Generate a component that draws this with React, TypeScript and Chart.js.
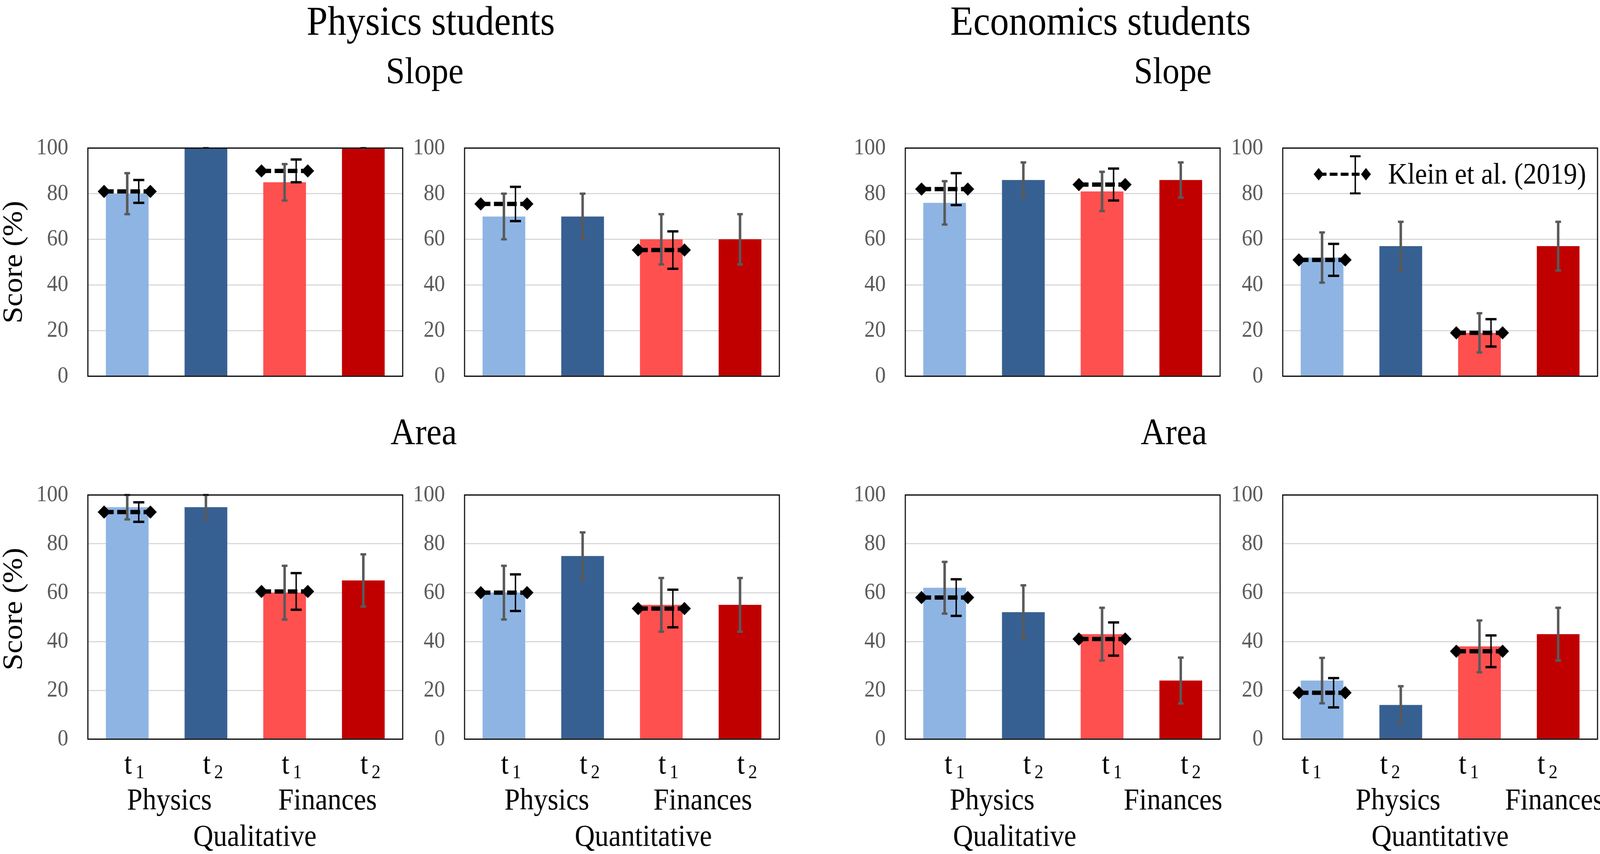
import { useEffect, useRef } from "react";
import { Chart, registerables } from "chart.js";

Chart.register(...registerables);

const FONT = '"Liberation Serif", "Times New Roman", serif';

// labels
const studentGroups = ["Physics students", "Economics students"];
const tasks = ["Slope", "Area"];
const timePoints = ["t1", "t2", "t1", "t2"];
const subjects = ["Physics", "Finances"];
const itemTypes = ["Qualitative", "Quantitative"];
const yAxisLabel = "Score (%)";
const legendLabel = "Klein et al. (2019)";
const yTicks = [0, 20, 40, 60, 80, 100];
const barColors = ["#8EB4E3", "#376092", "#FF5050", "#C00000"];

// Physics students - Slope
const physSlopeQualScore = [80, 100, 85, 100];
const physSlopeQualError = [9, 0, 8, 0];
const physSlopeQualKlein = [81, null, 90, null];
const physSlopeQualKleinError = [5, null, 5, null];

const physSlopeQuantScore = [70, 70, 60, 60];
const physSlopeQuantError = [10, 10, 11, 11];
const physSlopeQuantKlein = [75.5, null, 55.3, null];
const physSlopeQuantKleinError = [7.5, null, 8.2, null];

// Economics students - Slope
const econSlopeQualScore = [76, 86, 81, 86];
const econSlopeQualError = [9.5, 7.7, 8.6, 7.7];
const econSlopeQualKlein = [82, null, 84, null];
const econSlopeQualKleinError = [7, null, 7, null];

const econSlopeQuantScore = [52, 57, 19, 57];
const econSlopeQuantError = [11, 10.7, 8.6, 10.7];
const econSlopeQuantKlein = [51, null, 19, null];
const econSlopeQuantKleinError = [7, null, 6, null];

// Physics students - Area
const physAreaQualScore = [95, 95, 60, 65];
const physAreaQualError = [5, 5, 11, 10.7];
const physAreaQualKlein = [93, null, 60.5, null];
const physAreaQualKleinError = [4, null, 7.5, null];

const physAreaQuantScore = [60, 75, 55, 55];
const physAreaQuantError = [11, 9.7, 11, 11];
const physAreaQuantKlein = [60, null, 53.5, null];
const physAreaQuantKleinError = [7.5, null, 7.7, null];

// Economics students - Area
const econAreaQualScore = [62, 52, 43, 24];
const econAreaQualError = [10.6, 11, 10.8, 9.4];
const econAreaQualKlein = [58, null, 41, null];
const econAreaQualKleinError = [7.5, null, 6.8, null];

const econAreaQuantScore = [24, 14, 38, 43];
const econAreaQuantError = [9.3, 7.7, 10.6, 10.8];
const econAreaQuantKlein = [19, null, 36, null];
const econAreaQuantKleinError = [6, null, 6.5, null];

// layout, in 4498 x 2186 design pixels
const DESIGN_W = 4498;
const DESIGN_H = 2186;
const COL_X = [247, 1306, 2545, 3606];
const ROW_Y = [338, 1226];
const PLOT_W = 885;
const PLOT_H = 666;
const AXIS_W = 170;
const PAD_T = 50;
const PAD_R = 12;

type PanelSpec = {
    score: number[];
    error: number[];
    klein: (number | null)[];
    kleinError: (number | null)[];
    col: number;
    row: number;
    itemType: string;
    legend?: boolean;
    tShift?: number;
    groupShift?: [number, number];
    titleShift?: number;
};

const panels: PanelSpec[] = [
    { score: physSlopeQualScore, error: physSlopeQualError, klein: physSlopeQualKlein, kleinError: physSlopeQualKleinError, col: 0, row: 0, itemType: itemTypes[0] },
    { score: physSlopeQuantScore, error: physSlopeQuantError, klein: physSlopeQuantKlein, kleinError: physSlopeQuantKleinError, col: 1, row: 0, itemType: itemTypes[1] },
    { score: econSlopeQualScore, error: econSlopeQualError, klein: econSlopeQualKlein, kleinError: econSlopeQualKleinError, col: 2, row: 0, itemType: itemTypes[0] },
    { score: econSlopeQuantScore, error: econSlopeQuantError, klein: econSlopeQuantKlein, kleinError: econSlopeQuantKleinError, col: 3, row: 0, itemType: itemTypes[1], legend: true },
    { score: physAreaQualScore, error: physAreaQualError, klein: physAreaQualKlein, kleinError: physAreaQualKleinError, col: 0, row: 1, itemType: itemTypes[0], tShift: 20, groupShift: [8, 10], titleShift: 27 },
    { score: physAreaQuantScore, error: physAreaQuantError, klein: physAreaQuantKlein, kleinError: physAreaQuantKleinError, col: 1, row: 1, itemType: itemTypes[1], tShift: 20, groupShift: [10, 6], titleShift: 60 },
    { score: econAreaQualScore, error: econAreaQualError, klein: econAreaQualKlein, kleinError: econAreaQualKleinError, col: 2, row: 1, itemType: itemTypes[0], tShift: 28, groupShift: [23, 89], titleShift: -135 },
    { score: econAreaQuantScore, error: econAreaQuantError, klein: econAreaQuantKlein, kleinError: econAreaQuantKleinError, col: 3, row: 1, itemType: itemTypes[1], tShift: -30, groupShift: [103, 100], titleShift: 0 },
];

function diamond(ctx: CanvasRenderingContext2D, x: number, y: number, hw: number, hh: number) {
    ctx.beginPath();
    ctx.moveTo(x - hw, y);
    ctx.lineTo(x, y - hh);
    ctx.lineTo(x + hw, y);
    ctx.lineTo(x, y + hh);
    ctx.closePath();
    ctx.fill();
}

function errorBar(ctx: CanvasRenderingContext2D, x: number, top: number, bottom: number, capW: number, lw: number, capLw: number, color: string) {
    ctx.strokeStyle = color;
    ctx.lineWidth = lw;
    ctx.beginPath();
    ctx.moveTo(x, top);
    ctx.lineTo(x, bottom);
    ctx.stroke();
    ctx.lineWidth = capLw;
    ctx.beginPath();
    ctx.moveTo(x - capW / 2, top);
    ctx.lineTo(x + capW / 2, top);
    ctx.moveTo(x - capW / 2, bottom);
    ctx.lineTo(x + capW / 2, bottom);
    ctx.stroke();
}

function drawMarks(chart: Chart, p: PanelSpec) {
    const ctx = chart.ctx;
    const y = chart.scales.y;
    const meta = chart.getDatasetMeta(0);
    ctx.save();
    ctx.lineCap = "butt";

    // Klein et al. reference values
    p.klein.forEach((v, i) => {
        const e = p.kleinError[i];
        if (v == null || e == null) return;
        const bar = meta.data[i] as any;
        const half = bar.width / 2 + 5;
        const py = y.getPixelForValue(v);
        ctx.strokeStyle = "#000";
        ctx.lineWidth = 11;
        ctx.setLineDash([27, 10]);
        ctx.beginPath();
        ctx.moveTo(bar.x - half, py);
        ctx.lineTo(bar.x + half, py);
        ctx.stroke();
        ctx.setLineDash([]);
        ctx.fillStyle = "#000";
        diamond(ctx, bar.x - half, py, 18, 17);
        diamond(ctx, bar.x + half, py, 18, 17);
        errorBar(ctx, bar.x + bar.width * 0.27, y.getPixelForValue(v + e), y.getPixelForValue(v - e), 31, 4, 6, "#000");
    });

    // error bars of this study
    p.score.forEach((v, i) => {
        const bar = meta.data[i] as any;
        const e = p.error[i];
        errorBar(ctx, bar.x, y.getPixelForValue(Math.min(100, v + e)), y.getPixelForValue(v - e), 16, 7, 6, "#595959");
    });
    ctx.restore();
}

function drawFrame(chart: Chart, p: PanelSpec) {
    const ctx = chart.ctx;
    const area = chart.chartArea;
    const x = chart.scales.x;
    ctx.save();
    ctx.strokeStyle = "#000";
    ctx.lineWidth = 3;
    ctx.strokeRect(area.left, area.top, area.right - area.left, area.bottom - area.top);

    if (p.legend) {
        const ly = area.top + 67;
        const lx1 = area.left + 101;
        const lx2 = area.left + 234;
        ctx.lineWidth = 8;
        ctx.setLineDash([22, 9]);
        ctx.beginPath();
        ctx.moveTo(lx1, ly);
        ctx.lineTo(lx2, ly);
        ctx.stroke();
        ctx.setLineDash([]);
        ctx.fillStyle = "#000";
        diamond(ctx, lx1, ly, 14, 16);
        diamond(ctx, lx2, ly, 14, 16);
        errorBar(ctx, area.left + 204, area.top + 21, area.top + 116, 30, 4, 5, "#000");
        ctx.font = `76px ${FONT}`;
        ctx.textAlign = "left";
        ctx.textBaseline = "alphabetic";
        ctx.fillText(legendLabel, area.left + 296, area.top + 91);
    }

    if (p.row === 1) {
        ctx.fillStyle = "#000";
        ctx.textBaseline = "alphabetic";
        const tShift = p.tShift ?? 0;
        timePoints.forEach((lbl, i) => {
            const cx = x.getPixelForValue(i) + tShift;
            const main = lbl[0];
            const sub = lbl.slice(1);
            ctx.font = `78px ${FONT}`;
            const mw = ctx.measureText(main).width;
            ctx.font = `50px ${FONT}`;
            const sw = ctx.measureText(sub).width;
            const sx = cx - (mw + 10 + sw) / 2;
            ctx.textAlign = "left";
            ctx.font = `78px ${FONT}`;
            ctx.fillText(main, sx, area.bottom + 88);
            ctx.font = `50px ${FONT}`;
            ctx.fillText(sub, sx + mw + 10, area.bottom + 100);
        });
        ctx.font = `78px ${FONT}`;
        ctx.textAlign = "center";
        const gs = p.groupShift ?? [0, 0];
        subjects.forEach((s, g) => {
            const cx = (x.getPixelForValue(2 * g) + x.getPixelForValue(2 * g + 1)) / 2 + gs[g];
            ctx.fillText(s, cx, area.bottom + 180);
        });
        ctx.fillText(p.itemType, (area.left + area.right) / 2 + (p.titleShift ?? 0), area.bottom + 273);
    }
    ctx.restore();
}

function Panel({ spec }: { spec: PanelSpec }) {
    const canvasRef = useRef<HTMLCanvasElement | null>(null);
    const padB = spec.row === 0 ? 50 : DESIGN_H - ROW_Y[1] - PLOT_H;

    useEffect(() => {
        if (!canvasRef.current) {
            return;
        }

        const chart = new Chart(canvasRef.current, {
            type: "bar",
            data: {
                labels: timePoints,
                datasets: [
                    {
                        data: spec.score,
                        backgroundColor: barColors,
                        borderWidth: 0,
                        barPercentage: 0.543,
                        categoryPercentage: 1,
                    },
                ],
            },
            options: {
                animation: false,
                responsive: true,
                maintainAspectRatio: false,
                events: [],
                layout: { padding: { top: PAD_T, right: PAD_R, bottom: padB, left: 0 } },
                plugins: {
                    legend: { display: false },
                    tooltip: { enabled: false },
                },
                scales: {
                    x: { display: false },
                    y: {
                        min: 0,
                        max: 100,
                        afterBuildTicks: (s: any) => {
                            s.ticks = yTicks.map((v) => ({ value: v }));
                        },
                        afterFit: (s: any) => {
                            s.width = AXIS_W;
                        },
                        grid: { color: "#D9D9D9", lineWidth: 3, drawTicks: false },
                        border: { display: false },
                        ticks: {
                            color: "#595959",
                            font: { family: FONT, size: 60 },
                            padding: 55,
                        },
                    },
                },
            },
            plugins: [
                {
                    id: "panelMarks",
                    afterDatasetsDraw: (c: Chart) => drawMarks(c, spec),
                    afterDraw: (c: Chart) => drawFrame(c, spec),
                },
            ],
        });

        return () => chart.destroy();
    }, [spec, padB]);

    const left = COL_X[spec.col] - AXIS_W;
    const top = ROW_Y[spec.row] - PAD_T;
    return (
        <div
            style={{
                position: "absolute",
                left,
                top,
                width: AXIS_W + PLOT_W + PAD_R,
                height: PAD_T + PLOT_H + padB,
            }}
        >
            <canvas ref={canvasRef} />
        </div>
    );
}

function Text({ text, cx, baseline, size, rotate }: { text: string; cx: number; baseline: number; size: number; rotate?: boolean }) {
    if (rotate) {
        // cx, baseline = centre of the rotated box
        return (
            <div
                style={{
                    position: "absolute",
                    left: cx - 300,
                    top: baseline - size / 2,
                    width: 600,
                    height: size,
                    lineHeight: `${size}px`,
                    fontSize: size,
                    fontFamily: FONT,
                    textAlign: "center",
                    whiteSpace: "nowrap",
                    transform: "rotate(-90deg)",
                }}
            >
                {text}
            </div>
        );
    }
    return (
        <div
            style={{
                position: "absolute",
                left: cx - 1000,
                top: baseline - 0.8375 * size,
                width: 2000,
                height: size,
                lineHeight: `${size}px`,
                fontSize: size,
                fontFamily: FONT,
                textAlign: "center",
                whiteSpace: "nowrap",
                color: "#000",
            }}
        >
            {text}
        </div>
    );
}

export default function App() {
    // map the 4498 x 2186 design onto whatever viewport the page really has
    const sx = window.innerWidth / DESIGN_W;
    const sy = window.innerHeight / DESIGN_H;

    return (
        <div style={{ position: "fixed", left: 0, top: 0, right: 0, bottom: 0, overflow: "hidden", background: "#fff" }}>
            <div
                style={{
                    position: "absolute",
                    left: 0,
                    top: 0,
                    width: DESIGN_W,
                    height: DESIGN_H,
                    transform: `scale(${sx}, ${sy})`,
                    transformOrigin: "0 0",
                }}
            >
                <Text text={studentGroups[0]} cx={1211} baseline={90} size={106} />
                <Text text={studentGroups[1]} cx={3094} baseline={90} size={106} />
                <Text text={tasks[0]} cx={1194} baseline={213} size={96} />
                <Text text={tasks[0]} cx={3297} baseline={213} size={96} />
                <Text text={tasks[1]} cx={1191} baseline={1137} size={96} />
                <Text text={tasks[1]} cx={3300} baseline={1137} size={96} />
                <Text text={yAxisLabel} cx={36} baseline={671} size={78} rotate />
                <Text text={yAxisLabel} cx={36} baseline={1559} size={78} rotate />
                {panels.map((p, i) => (
                    <Panel key={i} spec={p} />
                ))}
            </div>
        </div>
    );
}
